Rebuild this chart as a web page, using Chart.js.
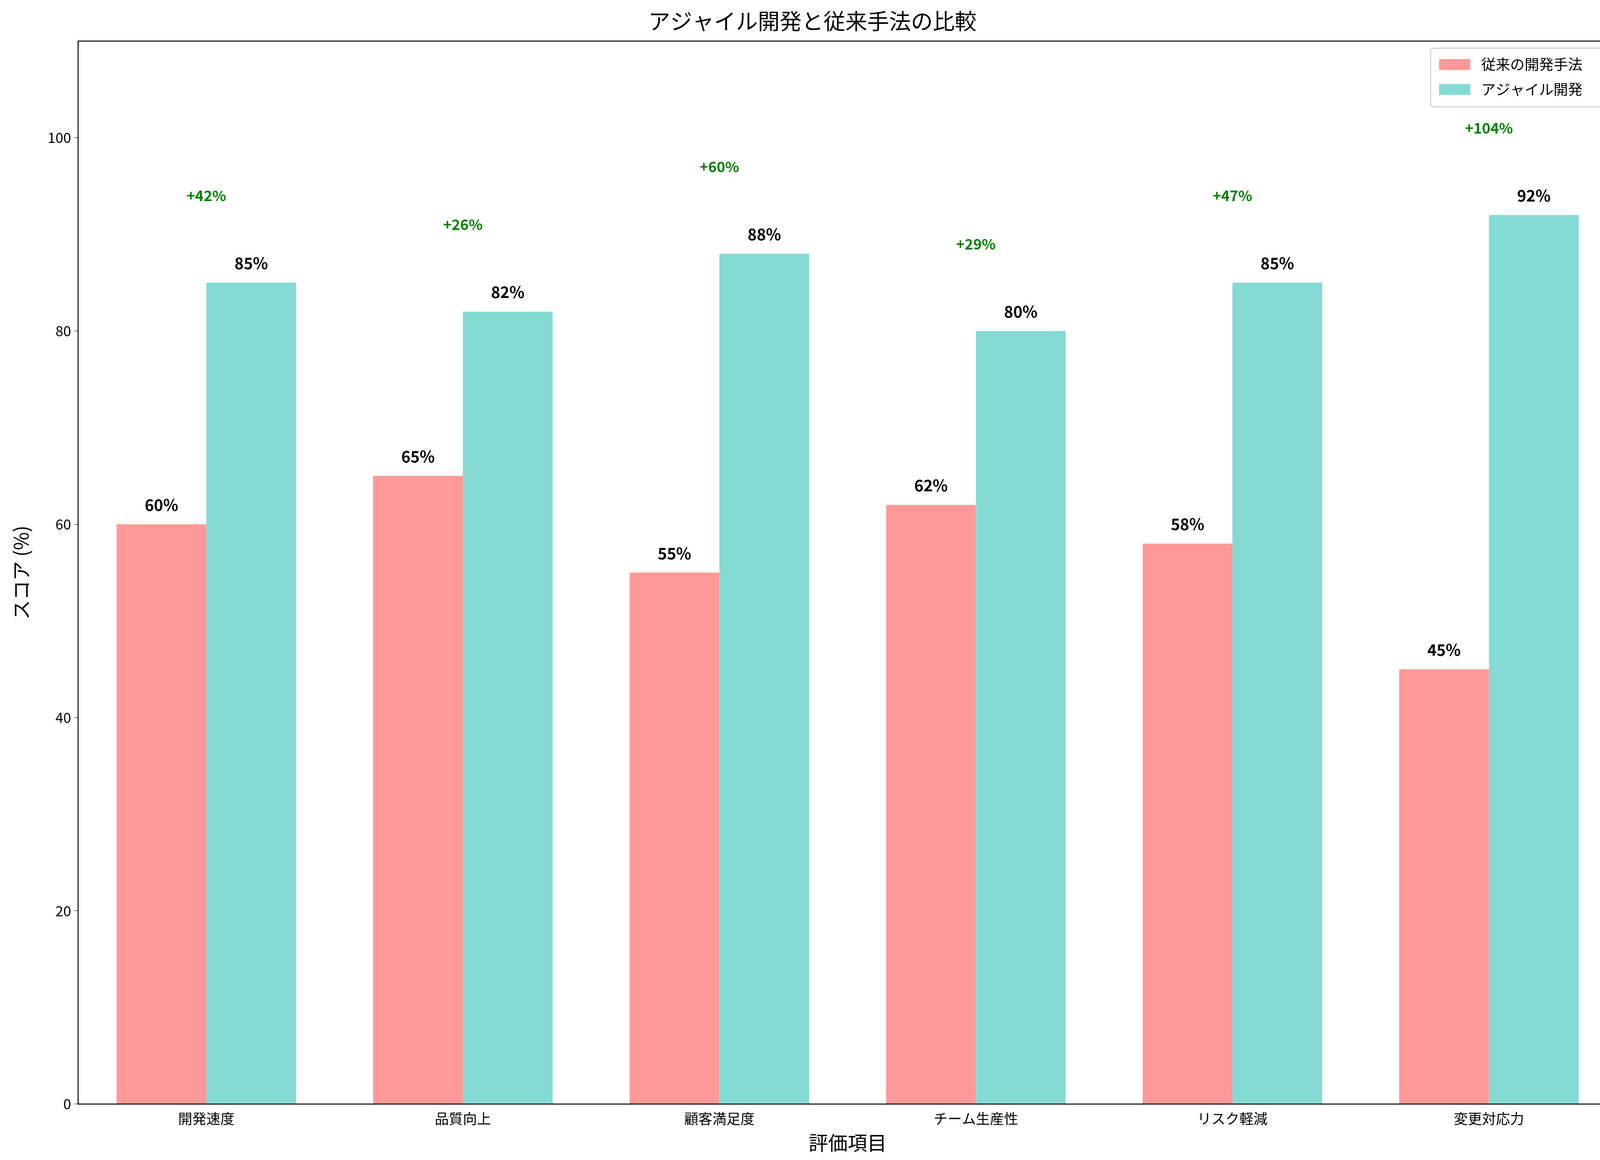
<!DOCTYPE html>
<html><head><meta charset="utf-8">
<script src="https://cdn.jsdelivr.net/npm/chart.js@4"></script>
<style>html,body{margin:0;padding:0;background:#fff;overflow:hidden}canvas{display:block}</style>
</head><body>
<canvas id="c" width="4168" height="2970"></canvas>
<script>
const categories = ['開発速度','品質向上','顧客満足度','チーム生産性','リスク軽減','変更対応力'];
const traditional = [60,65,55,62,58,45];
const agile = [85,82,88,80,85,92];
const seriesNames = ['従来の開発手法','アジャイル開発'];
const yTicks = [0,20,40,60,80,100];
const F = '"Noto Sans CJK JP","DejaVu Sans",sans-serif';
const colors = ['#ff9999','#84dbd4'];

const deco = {
  id:'deco',
  afterDatasetsDraw(chart){
    const ctx = chart.ctx, a = chart.chartArea, y = chart.scales.y, x = chart.scales.x;
    ctx.save();
    ctx.textAlign='center'; ctx.textBaseline='bottom';
    ctx.font = 'bold 40px '+F; ctx.fillStyle='#000';
    chart.data.datasets.forEach((ds,di)=>{
      chart.getDatasetMeta(di).data.forEach((b,i)=>{
        ctx.fillText(ds.data[i]+'%', b.x, y.getPixelForValue(ds.data[i]+1.2));
      });
    });
    ctx.font = 'bold 37px '+F; ctx.fillStyle='#008000'; ctx.textBaseline='middle';
    categories.forEach((c,i)=>{
      const imp = Math.round((agile[i]-traditional[i])/traditional[i]*100);
      ctx.fillText('+'+imp+'%', x.getPixelForValue(i), y.getPixelForValue(Math.max(agile[i],traditional[i])+9));
    });
    ctx.strokeStyle='#000'; ctx.lineWidth=2.5;
    ctx.strokeRect(a.left,a.top,a.right-a.left,a.bottom-a.top);
    const lw=460, lh=150, lx=a.right-lw-18, ly=a.top+18;
    ctx.fillStyle='rgba(255,255,255,0.8)'; ctx.strokeStyle='#cccccc'; ctx.lineWidth=2.5;
    ctx.beginPath(); ctx.roundRect(lx,ly,lw,lh,8); ctx.fill(); ctx.stroke();
    ctx.font='37px '+F; ctx.textAlign='left'; ctx.textBaseline='middle';
    seriesNames.forEach((n,i)=>{
      const yy = ly+42+i*64;
      ctx.fillStyle=colors[i]; ctx.fillRect(lx+22,yy-14,80,28);
      ctx.fillStyle='#000'; ctx.fillText(n,lx+130,yy);
    });
    ctx.restore();
  }
};

new Chart(document.getElementById('c'),{
  type:'bar',
  data:{labels:categories,datasets:[
    {label:seriesNames[0],data:traditional,backgroundColor:colors[0]},
    {label:seriesNames[1],data:agile,backgroundColor:colors[1]}
  ]},
  options:{
    responsive:false,devicePixelRatio:1,animation:false,
    layout:{padding:{left:20,right:28,top:20,bottom:10}},
    datasets:{bar:{categoryPercentage:0.7,barPercentage:1}},
    plugins:{legend:{display:false},tooltip:{enabled:false},
      title:{display:true,text:'アジャイル開発と従来手法の比較',font:{family:F,size:56,weight:'normal'},color:'#000',padding:{top:0,bottom:18}}},
    scales:{
      x:{grid:{display:false,drawOnChartArea:false,tickLength:10},border:{display:false},
        ticks:{font:{family:F,size:36},color:'#000',padding:6},
        title:{display:true,text:'評価項目',font:{family:F,size:50},color:'#000',padding:{top:4}}},
      y:{min:0,max:110,grid:{drawOnChartArea:false,tickLength:10,color:'#000'},border:{display:false},
        afterBuildTicks(s){s.ticks=yTicks.map(v=>({value:v}));},
        ticks:{font:{family:F,size:36},color:'#000',padding:8},
        title:{display:true,text:'スコア (%)',font:{family:F,size:50},color:'#000',padding:{bottom:30}}}
    }
  },
  plugins:[deco]
});
</script>
</body></html>
